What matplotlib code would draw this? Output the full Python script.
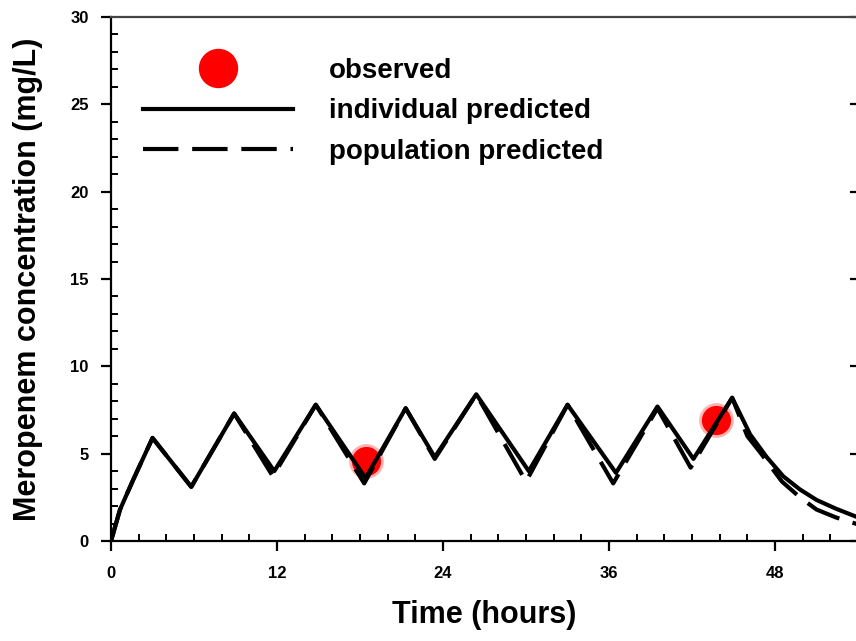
import matplotlib
matplotlib.use("Agg")
import matplotlib.pyplot as plt
from matplotlib.ticker import MultipleLocator

plt.rcParams["font.family"] = ["Liberation Sans", "DejaVu Sans"]
plt.rcParams["font.weight"] = "bold"

# observed concentrations
obs_t = [18.4, 43.7]
obs_c = [4.6, 6.9]

ind_t = [0, 0.65, 1.6, 3.0, 5.8, 8.9, 11.8, 14.8, 18.4, 21.3, 23.4, 26.4,
         30.2, 33.0, 36.5, 39.5, 42.1, 44.9, 46.2, 47.4, 48.6, 49.8, 51.0,
         52.4, 54.0]
ind_c = [0, 1.8, 3.5, 5.9, 3.1, 7.3, 4.0, 7.8, 3.6, 7.6, 4.8, 8.4,
         4.0, 7.8, 3.9, 7.7, 4.7, 8.2, 6.1, 4.8, 3.7, 2.95, 2.35,
         1.85, 1.35]

# population predicted
pop_t = [0, 0.65, 1.6, 3.0, 5.8, 8.9, 11.7, 14.8, 18.3, 21.3, 23.4, 26.4,
         30.0, 33.0, 36.3, 39.5, 41.9, 44.9, 46.0, 46.9, 48.5, 49.8, 51.0,
         52.4, 54.0]
pop_c = [0, 1.8, 3.5, 5.9, 3.1, 7.3, 3.7, 7.8, 3.3, 7.6, 4.7, 8.4,
         3.4, 7.8, 3.3, 7.6, 4.2, 8.2, 6.0, 5.1, 3.4, 2.5, 1.8,
         1.35, 0.95]

fig = plt.figure(figsize=(8.56, 6.41), dpi=100)
ax = fig.add_axes([0.1297, 0.156, 0.8727, 0.8175])

# soft halo + dot for the observed points
ax.plot(obs_t, obs_c, "o", color="red", ms=25, alpha=0.3, mec="none", zorder=2)
h_obs, = ax.plot(obs_t, obs_c, "o", color="red", ms=21, mec="none", zorder=2)
h_ind, = ax.plot(ind_t, ind_c, color="black", lw=3.0, zorder=3)
h_pop, = ax.plot(pop_t, pop_c, color="black", lw=3.0, dashes=(8.5, 3.3), zorder=3)

ax.set_xlim(0, 54)
ax.set_ylim(0, 30)
ax.xaxis.set_major_locator(MultipleLocator(12))
ax.xaxis.set_minor_locator(MultipleLocator(2))
ax.yaxis.set_major_locator(MultipleLocator(5))
ax.yaxis.set_minor_locator(MultipleLocator(1))

ax.tick_params(which="major", direction="out", length=7, width=1.6,
               labelsize=12, left=True, bottom=True)
ax.tick_params(axis="x", which="major", pad=11)
ax.tick_params(axis="y", which="major", pad=9)
ax.tick_params(which="minor", direction="in", length=5, width=1.4)
for lab in ax.get_xticklabels() + ax.get_yticklabels():
    lab.set_fontweight("bold")

# inward major ticks on the right-hand spine
sec = ax.secondary_yaxis("right")
sec.yaxis.set_major_locator(MultipleLocator(5))
sec.tick_params(direction="in", length=6, width=1.6, labelright=False)
sec.spines["right"].set_linewidth(1.6)

for s in ax.spines.values():
    s.set_linewidth(1.6)
ax.spines["top"].set_color("#444444")

ax.set_xlabel("Time (hours)", fontsize=22, fontweight="bold", labelpad=14)
ax.set_ylabel("Meropenem concentration (mg/L)", fontsize=22,
              fontweight="bold", labelpad=20)

leg = ax.legend([h_obs, h_ind, h_pop],
                ["observed", "individual predicted", "population predicted"],
                loc="upper left", bbox_to_anchor=(143 / 856, 1 - 58 / 641),
                bbox_transform=fig.transFigure, frameon=False,
                fontsize=20, handlelength=5.4, handletextpad=1.3,
                labelspacing=0.52, borderpad=0, borderaxespad=0,
                markerscale=1.35)
for t in leg.get_texts():
    t.set_fontweight("bold")

fig.savefig("out.png", dpi=100)
